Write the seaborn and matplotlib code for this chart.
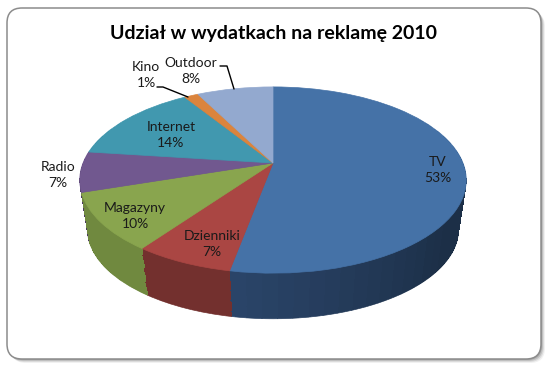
import numpy as np
import matplotlib
matplotlib.use("Agg")
import matplotlib.pyplot as plt
import seaborn as sns
from matplotlib.patches import FancyBboxPatch
from matplotlib.transforms import Transform

categories = ['TV', 'Dzienniki', 'Magazyny', 'Radio', 'Internet', 'Kino', 'Outdoor']
values = [53, 7, 10, 7, 14, 1.4, 7.6]
top_colors = ['#4572A7', '#AA4643', '#89A54E', '#71588F', '#4198AF', '#DB843D', '#93A9CF']
side_colors = ['#27425F', '#73302E', '#70893F', '#4C3B60', '#2B6675', '#94592A', '#63728C']
tv_side_dark = '#1C2F47'
tv_side_light = '#2A4468'
title = 'Udział w wydatkach na reklamę 2010'

# text centres in pixels, same order as categories
label_x = [438, 212, 135, 58, 171, 146, 191]
label_y = [170, 244, 216, 175, 135, 75, 71]

# pie shape on the picture
CX, CY = 273, 163
RX, RY = 190, 90
TILT = 0.183
DEPTH = 50
SHRINK = 0.04


class Perspective(Transform):
    input_dims = 2
    output_dims = 2

    def __init__(self, t=0.0):
        super().__init__()
        self.t = t

    def transform_non_affine(self, values):
        u, v = np.asarray(values).T
        d = 1 + TILT * v
        s = 1 - SHRINK * self.t
        return np.column_stack([CX + RX * u / d * s,
                                CY - RY * v / d * s + DEPTH * self.t])


def draw_pie(ax, vals, colors, t, lw=0.5, smooth=True):
    wedges, _ = ax.pie(vals, colors=colors, startangle=90, counterclock=False)
    for w in wedges:
        w.set_edgecolor(w.get_facecolor())
        w.set_linewidth(lw)
        w.set_antialiased(smooth)
        w.set_transform(Perspective(t) + ax.transData)


sns.set_theme(style='white')
plt.rcParams['font.family'] = ['Lato', 'DejaVu Sans']

fig, ax = plt.subplots(figsize=(5.52, 3.66), dpi=100)
ax.set_position([0, 0, 1, 1])

# card with soft shadow
for off, alpha in [(4, 0.10), (3, 0.18), (2, 0.28), (1, 0.35)]:
    ax.add_patch(FancyBboxPatch((22 + off, 23 + off), 504, 321,
                                boxstyle='round,pad=15,rounding_size=15',
                                fc='#777777', ec='none', alpha=alpha, zorder=0))
ax.add_patch(FancyBboxPatch((22, 23), 504, 321,
                            boxstyle='round,pad=15,rounding_size=15',
                            fc='white', ec='#8C8C8C', lw=1.1, zorder=0.5))

# side of the disc, split TV so its shading can change along the rim
n_tv = 48
side_vals = [values[0] / n_tv] * n_tv + values[1:]
side_pal = list(sns.blend_palette([tv_side_dark, tv_side_dark, tv_side_dark, tv_side_light], n_tv)) + side_colors[1:]
draw_pie(ax, side_vals, side_pal, 1.0)  # smooth outer rim
for t in np.linspace(1, 0.02, 50)[1:]:
    draw_pie(ax, side_vals, side_pal, t, lw=0, smooth=False)

draw_pie(ax, values, sns.color_palette(top_colors), 0)

ax.set_aspect('auto')
ax.set_xlim(0, 552)
ax.set_ylim(366, 0)
ax.axis('off')

for name, val, x, y in zip(categories, values, label_x, label_y):
    ax.text(x, y, f'{name}\n{round(val)}%', ha='center', va='center',
            fontsize=10, color='#1A1A1A', linespacing=1.45, zorder=5)

ax.plot([157, 163, 188], [87, 87, 97], color='black', lw=1, zorder=5)
ax.plot([220, 227, 234], [66, 66, 89], color='black', lw=1, zorder=5)

ax.text(273, 33, title, ha='center', va='center', fontsize=14,
        fontweight='bold', color='black', zorder=5)

fig.savefig('out.png', dpi=100)
